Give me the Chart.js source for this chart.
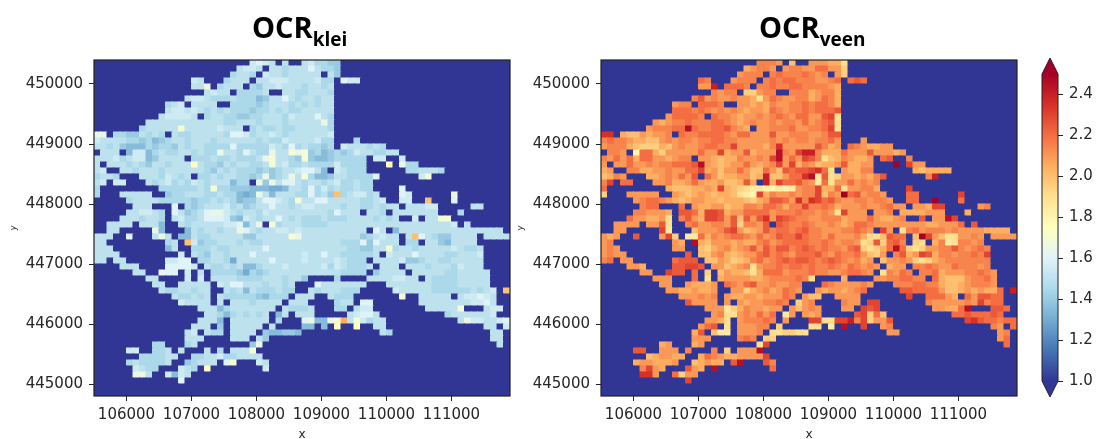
<!DOCTYPE html>
<html>
<head>
<meta charset="utf-8">
<title>OCR klei / veen</title>
<script src="https://cdn.jsdelivr.net/npm/chart.js@4"></script>
<style>
  body { margin: 0; background: #fff; width: 1105px; height: 439px; overflow: hidden; position: relative; }
  canvas { position: absolute; top: 0; }
  #kleiChart { left: 0; }
  #veenChart { left: 507px; }
  #barChart { left: 1000px; }
  .title { position: absolute; top: 7px; font: bold 29px 'Open Sans', sans-serif; color: #000; white-space: nowrap; line-height: 40px; }
  .title span { font-size: 19px; position: relative; top: 8px; }
</style>
</head>
<body>
<canvas id="kleiChart" width="515" height="439"></canvas>
<canvas id="veenChart" width="515" height="439"></canvas>
<canvas id="barChart" width="105" height="439"></canvas>
<div class="title" style="left:252px">OCR<span>klei</span></div>
<div class="title" style="left:759px">OCR<span>veen</span></div>
<script>
// ── Data ─────────────────────────────────────────────────────
// one char per 100 m cell, north to south; '.' = no data (drawn as the lowest colour)
const LEVELS = 'abcdefghijklmnopqrstuvwxyzABCDE'; // a = 1.00, b = 1.05 ... E = 2.50
const LEVEL_STEP = 0.05;
const VALUE_MIN = 1.0;
const VALUE_MAX = 2.5;
const VEEN_CALIBRATION = 0.05; // veen readings came out one level too light

const xMin = 105500, xMax = 111900;
const yMin = 444800, yMax = 450400;
const cellSize = 100;

const xTicks = [106000, 107000, 108000, 109000, 110000, 111000];
const yTicks = [445000, 446000, 447000, 448000, 449000, 450000];
const barTicks = [1.0, 1.2, 1.4, 1.6, 1.8, 2.0, 2.2, 2.4];

// RdYlBu reversed
const cmapStops = ['#313695', '#4575b4', '#74add1', '#abd9e9', '#e0f3f8', '#ffffbf',
                   '#fee090', '#fdae61', '#f46d43', '#d73027', '#a50026'];

const kleiRows = [
  '........ ........ ........ lmlk.k.. kljjii..',
  '........ ........ ......kl lk.kkjkk kmkjji..',
  '........ ........ .....jkk j.lkkjkk kkk.ki..',
  '........ .......l k...jkkk .kklllkk kkljj.ml l.......',
  '........ .......k kn.jkkk. jikklkkk jkkjk...',
  '........ ........ .klkk.jj jjk..kkj jkkkj...',
  '........ ......kl lkjjjkjj jhikkmkj kkjkk...',
  '........ ...jkl.k kkk..jjj jijkkkjk jkjkk...',
  '........ ...kllkl kjkjkjjj ijjkjkjj kkkkk...',
  '........ ..kllllk .jkkjjii jjkkkjlk kkmkj...',
  '........ kkkkkkkk kkkkjjkk kjkkkjkk kkknj...',
  '.......j kkkkkokk kkklkkk. jkjjkjjk kkkkj...',
  'nn.jjiik jkj.kjjk kkkkjmml jkklkjkk kkkkl...',
  'lkkkkjji jhijkkjk kkjkkkkk kjkjjlkk kkljj... j.......',
  'kkjkihhh jijjikjk kjjjjmjj jjjlkjmj kjjij.lk kkjkj...',
  '.kkk.hll hjkjjkkj kjjnkkjm kjjnkkon oijhijij lkkjjkk.',
  'kkkljkll hikkkk.j jjkjjkjj jknokkji oihhijjj jj.ll..l',
  'k.kkkjkj ikkjkkkp kjjikjkk jjkokljj kjjjjljj jj...p.n jj......',
  'kl..kkjk kkjkkkkk kjikjkjj jijijkkl mmkh.lkj jj...... jjkkkj..',
  'jkkj...k kkjlkjk. jjkjkkjj ijnijknk ojhhikkj jjjm.... ..lo....',
  'kl.ll... kjkljkjl kjkkkhjj .ninkmmk jkkjkljj kjj.....',
  'j....... ..jjjjjj kjojjiii hhhgghkk jmjljkjj kjj....m',
  'j...kkkk k..ijjkk kjjkjjhg hnkhkkkj jmjkiujk lljk...m l......n',
  '.....jkk kkjjjjji jjkjkjhi ikmmlkjo kkmmkkkk kjjkl..l l..u...m',
  '......kk k...m.ji jkkkljki jkkmkkjk llkkkkjk kjjkjkk. kkkll... ..kk....',
  '.....kkl lkj.mkij kmnnlkjk kjlkkkkk kkkkjmkk k.kkj.kk kkkkk... j.......',
  '....kkkj kkj.kljj kmmmlihl kjkkmkjk jjjkjjjk kkkjkjk. .l.kkoo.',
  '..kkkk.k kkh..kjk kkkkllmh kn.ojkkk jjjjkkkk kkkkkkkk kkkkkkkl .k......',
  '..kk.... .nh...hk jkkjkknm kjkkllkl kkkkkkkk kk.mk.hk kkkkkkkk kkkkkkk.',
  'kkk..m.. .knk.hhk jjkkkkki ikkkkkon kkkkkkkk kijklkk. kumkjiik kkk.kkkk',
  'kk...... ...jk.ul ijjkkkjk jjkkkkkk kkkkkkjj jmimkkk. jj.kkihk kkk.....',
  'kkk..... ...hk..j jjkjjkkk kkmkkkkk kkkkkkkj jiikkojk kjkkkkkl kjjk....',
  'kkkk.... .....l.k jikkjkkk mkkkkkkk lkkmkkjj jjjk.lkk kmkkkkjj kkkl....',
  'kk.kk... ...llmm. jjkkjgkk kkkmkkkk lkkkklkj jj.kkkkl iijkkjjk kkkk....',
  '....kkk. ...mmmml .kjjkjkh hjkkklkk kkkljlkj jjk.kkk. kkkjkkkj lkkk....',
  '......kk ..nmm.l. k.jjjjig jijkkkkk kkkkkkjj jj.ikkkk .kkkkkjj kkkkk...',
  '........ kk....l. l.kkkkjj jjkkkjkk i....j.. ..kkkkll kk.kjjjj kkkkk...',
  '........ .kk..kkk kk.lkmmk kkjkkjk. ..mkkkkk kk...kkk kkkkjjjj kkkkk...',
  '........ ..kjjkkj kk..kjkh kjjjkjj. .kjkkkjj j.....lk kkkkjjjj jjkjkl.u',
  '........ ....kjjk jk.kjjjj jihjjj.k kk..kjjj .......o ..kkkkk. kllmlk..',
  '........ .....lkk kk.k.kkk jkkkk.kk k....jkk .mm..... ..kkkkkk kkllmk..',
  '........ ........ kkkhjkkk kkkk.kjj jk...jj. kll..... ...kkkkk o...kll.',
  '........ ........ .kkjhjkj kjk.hk.k kk.....k lmmk.... ......jk kkkkkl..',
  '........ ........ kkkh.kkk kkk.j... mnhhnovk oljkk... ........ knllkklm',
  '........ .......k kk.i.kkk kk.k.... hh.h.p.. p..kk... ........ ....kk.l',
  '........ ......kl .kjj.kkk k.ihhiih ........ ....kj.. ........ .....kk.',
  '........ ......kk k....kkk .ki..... ........ ........ ........ .....kk.',
  '........ .jj...jk ........ in...... ........ ........ ........ ......k.',
  '.....ll. .jjk.k.. .k.j.kkk o.......',
  '.......j jjjkk..j jkkljjkk kk......',
  '.....jkj jjjk..ij kkk.mo.. .lk.....',
  '......lk jj...lkj .p...... ..l.....',
  '......nn k..lhlk.',
  '........ .....m..',
  '',
  ''
];

const veenRows = [
  '........ ........ ........ wwwv.t.. vvvuur..',
  '........ ........ ......uv wwv.vwwv vxxvvs..',
  '........ ........ .....vww w.wxwwwx wvw.vs..',
  '........ .......x w...vwww .wxwxxww wvvwx.xy x.......',
  '........ .......v vB.xxxw. wwxwwxxw wwwvu...',
  '........ ........ .wvww.ss vww..www uvwwu...',
  '........ ......wy vwvvwvvu rvxwvvww uvxwu...',
  '........ ...vww.x xxw..vvu vuwvvwwx wxxwu...',
  '........ ...xxxwx wvwvwvuv vuxwvwwx wxxxy...',
  '........ ..vxxxxw .xwwvuvv wvwxwvxx vvyzr...',
  '........ vuvwwxww wxxwvuvw vvwvwwvx vwxyr...',
  '.......v wwwxxCxw wxxywvu. vvwwwxvv wwxzr...',
  'AA.uttvu vvw.xwwx xxxwvxxv vvyvvwww vvwyy...',
  'wxwwvuut tvwvwwvw wxxwwvvv vvwvwvww vwwxv... v.......',
  'vwwwutss sutvwvvw xxwwzvvv vuwAvvvv vywuv.xw vuuvv...',
  '.wwv.pxx usvvvvvx vvzuvvyu vvvCwvzB Bwuuuxvv vyvvvuv.',
  'wvxvxuxx vvuvww.v vutuuwvv wvzCvxvz ywrtuwvu uv.xy..w',
  'v.vvxvvw vwwxxxyC vutuvvxv uvwzvzuw vtuuvyuu vv...D.z vv......',
  'uv..wwuu vvwvvxxz uvtvvxvt txvtyxyy zAxr.vuu ww...... utuuuu..',
  'tuwv...u uvwvxvy. xvtuuvvt uBttvxxA Cqyrsvvu vuwy.... ..wB....',
  'wz.xx... vvwuuvxv uuvttuyu .Buzxxyw vqxrvvxv wvw.....',
  'x....... ..utttuu vuzutsrq qppqpqvw wzuuxrvv wwu....z',
  's...vvvv v..vutuv utuutrqp zuwvvwvw wztwvDxy vwwv...x x......z',
  '.....vwx xwvutuvv uutuuuts uvyyxvAw Azxywvvw wvwwv..x x..D...x',
  '......wx x...x.vu uvvtuuww vxxwuwwz wwxwuvvv wvvwxvv. vvuzz... ..vw....',
  '.....wwv vvu.yyxu zzyuvvxx xxvwwwxw wvwvrzvv v.vvw.uu uuvvv... u.......',
  '....xvvu uvr.wyvu zzyvytyv yAvzyxww vvwwwuvv vxvuuvw. .y.vvCz.',
  '..vvvv.v vyr..wxv vwwvysww vy.yxwwx wvvwvuvx xwvvvvvv vvuuvvvx .y......',
  '..vv.... .zq...tv vvwyzvtu vywxxwxy wwvvvwwx wv.zv.rw xvwwwvwv vvvuuuu.',
  'vuv..y.. .vzs.qqx uwvwxxwv xvwyxxzx wwvxvvvw urrtyxx. tDzvtrrv vwv.vvvv',
  'vw...... ...vu.Cu tvvvuvuu wxvwxxxx wwxwvwwv rsysxyw. sr.uwqrw wvw.....',
  'vwv..... ...vv..t suvwuvwy vywyywxy xwxwwvxy srsuxCxs rsvvwwyw vwxw....',
  'vwvv.... .....y.t tvwutuvv xywxwvxx xywvxwwx vtsv.wyu vzyuwwvw wxwz....',
  'wx.vv... ...xyyy. ttvustuw xvwxyxyy xwxyxwvw uv.tvvwv srsuvwww wwww....',
  '....vvu. ...yyzzy .vvtuvwr vwwxwxxw xwwxwvxw vwv.uvv. wwxwvvxw wwvw....',
  '......vv ..zyy.x. s.tvuutr uxxxvwww xwwvvwxx wv.rwvxw .wwxuvvv wwxwv...',
  '........ vvv...x. r.uvvvvu uvwwwwxw r....u.. ..vvwwxx ww.xuttt vwwxv...',
  '........ .vv..vuu uv.xwvxy vvwvvww. ..xwvvvv wv...www xxwwuttu vwwwv...',
  '........ ..vvuuvu uv..vvsu vwuvxwv. .vuvvuvw x.....yy xxxxvttu vuvuux.B',
  '........ ....vvvw vw.vuuvv uvvvxw.v tt..vvvv .......z ..xxxvu. xvyyxx..',
  '........ .....yvv vv.v.vuv vwwxw.sv w....wvv .zz..... ..wvvvvv wvzwxx..',
  '........ ........ vvvqsuwv vuvv.vtv wv...vv. zyz..... ...vvuux C...yyx.',
  '........ ........ .vwrrvwv xvx.qv.v uv.....y zsxt.... ......xx yxxxyx..',
  '........ ........ vvur.vww wxw.v... zzrrzzBw zsvvy... ........ zAyxxwxx',
  '........ .......v xy.r.vvv ww.s.... rr.q.C.. z..vw... ........ ....wv.x',
  '........ ......uy .tqq.vvv w.rrssrr ........ ....vv.. ........ .....vw.',
  '........ ......vv v....wxw .ss..... ........ ........ ........ .....vx.',
  '........ .uv...uv ........ rz...... ........ ........ ........ ......x.',
  '.....yy. .vvv.w.. .w.s.vvv C.......',
  '.......t uvvuu..u xwvuuvvv vz......',
  '.....uvv uuuv..tu vuu.yC.. .yw.....',
  '......wz vu...yvu .C...... ..x.....',
  '......AA v..xsvv.',
  '........ .....z..',
  '',
  ''
];

// ── Colour map ───────────────────────────────────────────────
function hexToRgb(hex) {
  return [1, 3, 5].map(i => parseInt(hex.slice(i, i + 2), 16));
}

function valueToColor(v) {
  const t = Math.max(0, Math.min(1, (v - VALUE_MIN) / (VALUE_MAX - VALUE_MIN))) * (cmapStops.length - 1);
  const i = Math.min(Math.floor(t), cmapStops.length - 2);
  const a = hexToRgb(cmapStops[i]);
  const b = hexToRgb(cmapStops[i + 1]);
  const c = a.map((ch, k) => Math.round(ch + (b[k] - ch) * (t - i)));
  return `rgb(${c[0]},${c[1]},${c[2]})`;
}

// ── Shared bits ──────────────────────────────────────────────
const textColor = '#262626';
const spineColor = '#222';
const tickFont = { family: "'DejaVu Sans'", size: 15 };

const framePlugin = {
  id: 'frame',
  beforeDatasetsDraw(chart) {
    // no seams between the no-data cells
    const { left, top, width, height } = chart.chartArea;
    chart.ctx.save();
    chart.ctx.fillStyle = cmapStops[0];
    chart.ctx.fillRect(left, top, width, height);
    chart.ctx.restore();
  },
  afterDatasetsDraw(chart) {
    const { left, top, width, height } = chart.chartArea;
    const ctx = chart.ctx;
    ctx.save();
    ctx.strokeStyle = spineColor;
    ctx.lineWidth = 1.2;
    ctx.strokeRect(left, top, width, height);
    ctx.restore();
  }
};

// ── Heatmap panels ───────────────────────────────────────────
function buildCells(rows, calibration) {
  const cells = [];
  const colors = [];
  const cols = (xMax - xMin) / cellSize;
  rows.forEach((raw, j) => {
    const row = raw.replace(/ /g, '');
    for (let i = 0; i < cols; i++) {
      const ch = row[i] || '.';
      const value = ch === '.' ? VALUE_MIN : VALUE_MIN + LEVELS.indexOf(ch) * LEVEL_STEP + calibration;
      cells.push({
        x: xMin + cellSize * (i + 0.5),
        y: [yMax - cellSize * (j + 1), yMax - cellSize * j]
      });
      colors.push(valueToColor(value));
    }
  });
  return { cells, colors };
}

function drawPanel(canvasId, rows, calibration) {
  const { cells, colors } = buildCells(rows, calibration);
  new Chart(document.getElementById(canvasId), {
    type: 'bar',
    data: {
      datasets: [{
        data: cells,
        backgroundColor: colors,
        borderWidth: 0,
        inflateAmount: 0.5,
        barPercentage: 1,
        categoryPercentage: 1,
        grouped: false
      }]
    },
    plugins: [framePlugin],
    options: {
      responsive: false,
      animation: false,
      events: [],
      layout: { padding: { top: 60, right: 5 } },
      plugins: { legend: { display: false }, tooltip: { enabled: false } },
      scales: {
        x: {
          type: 'linear',
          offset: false,
          min: xMin,
          max: xMax,
          afterBuildTicks: s => { s.ticks = xTicks.map(value => ({ value })); },
          afterFit: s => { s.height = 43; },
          grid: { offset: false, drawOnChartArea: false, tickLength: 5, tickColor: spineColor },
          border: { display: false },
          ticks: { color: textColor, font: tickFont, padding: 5, maxRotation: 0, autoSkip: false, callback: v => String(v) },
          title: { display: true, text: 'x', color: textColor, font: { family: "'DejaVu Sans'", size: 12 }, padding: { top: 0, bottom: -3 } }
        },
        y: {
          min: yMin,
          max: yMax,
          afterBuildTicks: s => { s.ticks = yTicks.map(value => ({ value })); },
          afterFit: s => { s.width = 94; },
          grid: { drawOnChartArea: false, tickLength: 5, tickColor: spineColor },
          border: { display: false },
          ticks: { color: textColor, font: tickFont, padding: 6, autoSkip: false, callback: v => String(v) },
          title: { display: true, text: 'y', color: textColor, font: { family: "'DejaVu Sans'", size: 8, style: 'italic' }, padding: { top: 9, bottom: 0 } }
        }
      }
    }
  });
}

// ── Colour bar ───────────────────────────────────────────────
const barEndsPlugin = {
  id: 'barEnds',
  afterDatasetsDraw(chart) {
    const { left, right, top, bottom } = chart.chartArea;
    const mid = (left + right) / 2;
    const ctx = chart.ctx;
    ctx.save();
    // extend triangles above and below the bar
    ctx.fillStyle = cmapStops[cmapStops.length - 1];
    ctx.beginPath();
    ctx.moveTo(left, top); ctx.lineTo(mid, top - 16); ctx.lineTo(right, top);
    ctx.closePath();
    ctx.fill();
    ctx.fillStyle = cmapStops[0];
    ctx.beginPath();
    ctx.moveTo(left, bottom); ctx.lineTo(mid, bottom + 16); ctx.lineTo(right, bottom);
    ctx.closePath();
    ctx.fill();
    // outline
    ctx.strokeStyle = spineColor;
    ctx.lineWidth = 1;
    ctx.beginPath();
    ctx.moveTo(left, top); ctx.lineTo(mid, top - 16); ctx.lineTo(right, top);
    ctx.lineTo(right, bottom); ctx.lineTo(mid, bottom + 16); ctx.lineTo(left, bottom);
    ctx.closePath();
    ctx.stroke();
    ctx.restore();
  }
};

function barGradient(context) {
  const area = context.chart.chartArea;
  if (!area) return cmapStops[0];
  const g = context.chart.ctx.createLinearGradient(0, area.bottom, 0, area.top);
  cmapStops.forEach((c, i) => g.addColorStop(i / (cmapStops.length - 1), c));
  return g;
}

function drawColorBar() {
  new Chart(document.getElementById('barChart'), {
    type: 'bar',
    data: {
      labels: [''],
      datasets: [{
        data: [[VALUE_MIN, VALUE_MAX]],
        backgroundColor: barGradient,
        borderWidth: 0,
        barPercentage: 1,
        categoryPercentage: 1
      }]
    },
    plugins: [barEndsPlugin],
    options: {
      responsive: false,
      animation: false,
      events: [],
      layout: { padding: { top: 74, bottom: 58, left: 42 } },
      plugins: { legend: { display: false }, tooltip: { enabled: false } },
      scales: {
        x: { display: false },
        y: {
          position: 'right',
          min: VALUE_MIN,
          max: VALUE_MAX,
          afterBuildTicks: s => { s.ticks = barTicks.map(value => ({ value })); },
          afterFit: s => { s.width = 47; },
          grid: { drawOnChartArea: false, tickLength: 5, tickColor: spineColor },
          border: { display: false },
          ticks: { color: textColor, font: { family: "'DejaVu Sans'", size: 15 }, padding: 6, autoSkip: false, callback: v => Number(v).toFixed(1) }
        }
      }
    }
  });
}

drawPanel('kleiChart', kleiRows, 0);
drawPanel('veenChart', veenRows, VEEN_CALIBRATION);
drawColorBar();
</script>
</body>
</html>
